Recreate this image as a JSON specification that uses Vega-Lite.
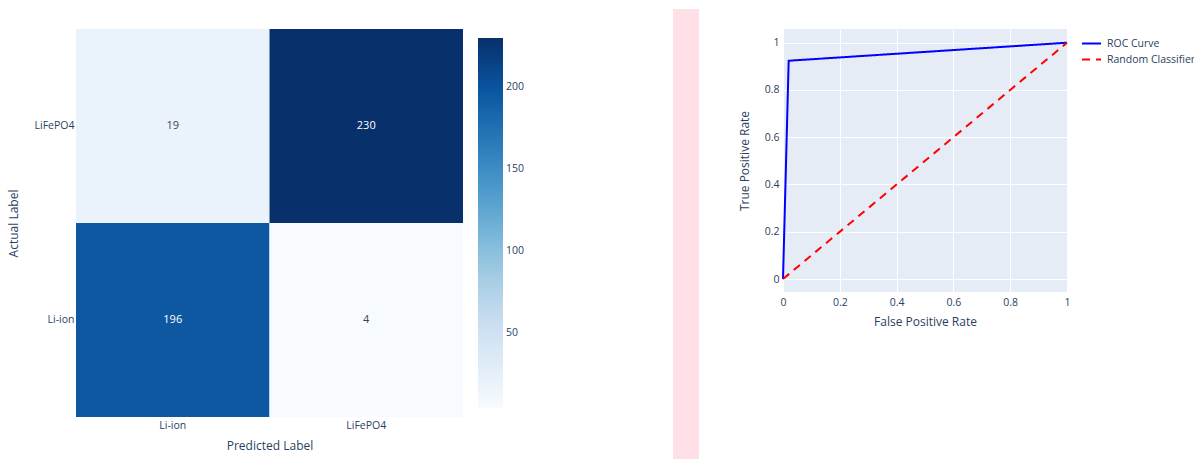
{
  "$schema": "https://vega.github.io/schema/vega-lite/v6.json",
  "background": "white",
  "padding": {"left": 7, "top": 9, "right": 0, "bottom": 0},
  "config": {
    "font": "Open Sans",
    "view": {"stroke": null},
    "axis": {
      "domain": false,
      "ticks": false,
      "labelColor": "#2a3f5f",
      "titleColor": "#2a3f5f",
      "labelFontSize": 10.5,
      "titleFontSize": 12,
      "titleFontWeight": "normal",
      "labelFont": "Open Sans",
      "titleFont": "Open Sans"
    },
    "legend": {
      "labelColor": "#2a3f5f",
      "labelFontSize": 10.5,
      "labelFont": "Open Sans"
    }
  },
  "datasets": {
    "cm": [
      {"actual": "LiFePO4", "predicted": "Li-ion", "count": 19},
      {"actual": "LiFePO4", "predicted": "LiFePO4", "count": 230},
      {"actual": "Li-ion", "predicted": "Li-ion", "count": 196},
      {"actual": "Li-ion", "predicted": "LiFePO4", "count": 4}
    ],
    "roc": [
      {"series": "ROC Curve", "fpr": 0, "tpr": 0},
      {"series": "ROC Curve", "fpr": 0.02, "tpr": 0.9237},
      {"series": "ROC Curve", "fpr": 1, "tpr": 1},
      {"series": "Random Classifier", "fpr": 0, "tpr": 0},
      {"series": "Random Classifier", "fpr": 1, "tpr": 1}
    ],
    "blank": [{"k": ""}]
  },
  "spacing": 139,
  "resolve": {"scale": {"color": "independent", "strokeDash": "independent"}, "legend": {"color": "independent", "strokeDash": "independent"}},
  "hconcat": [
    {
      "spacing": 0,
      "resolve": {"scale": {"color": "independent"}, "legend": {"color": "independent"}},
      "vconcat": [
        {
          "width": 10,
          "height": 20,
          "data": {"name": "blank"},
          "mark": {"type": "text"},
          "encoding": {"text": {"field": "k"}}
        },
        {
          "width": 387,
          "height": 388,
          "data": {"name": "cm"},
          "encoding": {
            "x": {
              "field": "predicted",
              "type": "nominal",
              "sort": ["Li-ion", "LiFePO4"],
              "scale": {"paddingInner": 0, "paddingOuter": 0},
              "axis": {"title": "Predicted Label", "labelAngle": 0, "labelPadding": 3, "titlePadding": 10}
            },
            "y": {
              "field": "actual",
              "type": "nominal",
              "sort": ["LiFePO4", "Li-ion"],
              "scale": {"paddingInner": 0, "paddingOuter": 0},
              "axis": {"title": "Actual Label", "labelPadding": 2, "titlePadding": 14}
            }
          },
          "layer": [
            {
              "mark": {"type": "rect"},
              "encoding": {
                "color": {
                  "field": "count",
                  "type": "quantitative",
                  "scale": {
                    "domain": [4, 32.25, 60.5, 88.75, 117, 145.25, 173.5, 201.75, 230],
                    "range": ["rgb(247,251,255)", "rgb(222,235,247)", "rgb(198,219,239)", "rgb(158,202,225)", "rgb(107,174,214)", "rgb(66,146,198)", "rgb(33,113,181)", "rgb(8,81,156)", "rgb(8,48,107)"],
                    "interpolate": "rgb"
                  },
                  "legend": {
                    "title": null,
                    "orient": "right",
                    "direction": "vertical",
                    "gradientLength": 370,
                    "gradientThickness": 25,
                    "gradientStrokeWidth": 0,
                    "values": [50, 100, 150, 200],
                    "offset": 6,
                    "padding": 9,
                    "labelOffset": 3
                  }
                }
              }
            },
            {
              "mark": {"type": "text", "fontSize": 11, "font": "Open Sans"},
              "encoding": {
                "text": {"field": "count", "type": "quantitative"},
                "color": {
                  "condition": {"test": "datum.count > 115", "value": "#ffffff"},
                  "value": "#444444"
                }
              }
            }
          ]
        }
      ]
    },
    {
      "spacing": 39,
      "hconcat": [
        {
          "width": 26,
          "height": 450,
          "view": {"fill": "#ffe0e6", "stroke": null},
          "data": {"name": "blank"},
          "mark": {"type": "text"},
          "encoding": {"text": {"field": "k"}}
        },
        {
          "spacing": 0,
          "resolve": {"scale": {"color": "independent", "strokeDash": "independent"}, "legend": {"color": "independent", "strokeDash": "independent"}},
          "vconcat": [
            {
              "width": 10,
              "height": 20,
              "data": {"name": "blank"},
              "mark": {"type": "text"},
              "encoding": {"text": {"field": "k"}}
            },
            {
              "width": 284,
              "height": 263,
              "view": {"fill": "#e5ecf6", "stroke": null},
              "data": {"name": "roc"},
              "mark": {"type": "line", "strokeWidth": 2},
              "encoding": {
                "x": {
                  "field": "fpr",
                  "type": "quantitative",
                  "scale": {"domain": [0, 1], "nice": false, "zero": false},
                  "axis": {
                    "title": "False Positive Rate",
                    "values": [0, 0.2, 0.4, 0.6, 0.8, 1],
                    "format": "~g",
                    "grid": true,
                    "gridColor": "#ffffff",
                    "gridWidth": 1,
                    "labelPadding": 5,
                    "titlePadding": 9,
                    "labelFlush": false
                  }
                },
                "y": {
                  "field": "tpr",
                  "type": "quantitative",
                  "scale": {"domain": [-0.055, 1.058], "nice": false, "zero": false},
                  "axis": {
                    "title": "True Positive Rate",
                    "values": [0, 0.2, 0.4, 0.6, 0.8, 1],
                    "format": "~g",
                    "grid": true,
                    "gridColor": "#ffffff",
                    "gridWidth": 1,
                    "labelPadding": 4,
                    "titlePadding": 13
                  }
                },
                "color": {
                  "field": "series",
                  "type": "nominal",
                  "sort": ["ROC Curve", "Random Classifier"],
                  "scale": {"domain": ["ROC Curve", "Random Classifier"], "range": ["#0000ff", "#ff0000"]},
                  "legend": {
                    "title": null,
                    "orient": "right",
                    "offset": 6,
                    "padding": 4,
                    "symbolType": "stroke",
                    "symbolSize": 361,
                    "symbolStrokeWidth": 2,
                    "labelOffset": 5,
                    "rowPadding": 0,
                    "labelLimit": 0
                  }
                },
                "strokeDash": {
                  "field": "series",
                  "type": "nominal",
                  "sort": ["ROC Curve", "Random Classifier"],
                  "scale": {"domain": ["ROC Curve", "Random Classifier"], "range": [[1, 0], [8, 6]]},
                  "legend": {
                    "title": null,
                    "orient": "right",
                    "offset": 6,
                    "padding": 4,
                    "symbolType": "stroke",
                    "symbolSize": 361,
                    "symbolStrokeWidth": 2,
                    "labelOffset": 5,
                    "rowPadding": 0,
                    "labelLimit": 0
                  }
                }
              }
            }
          ]
        }
      ]
    }
  ]
}
